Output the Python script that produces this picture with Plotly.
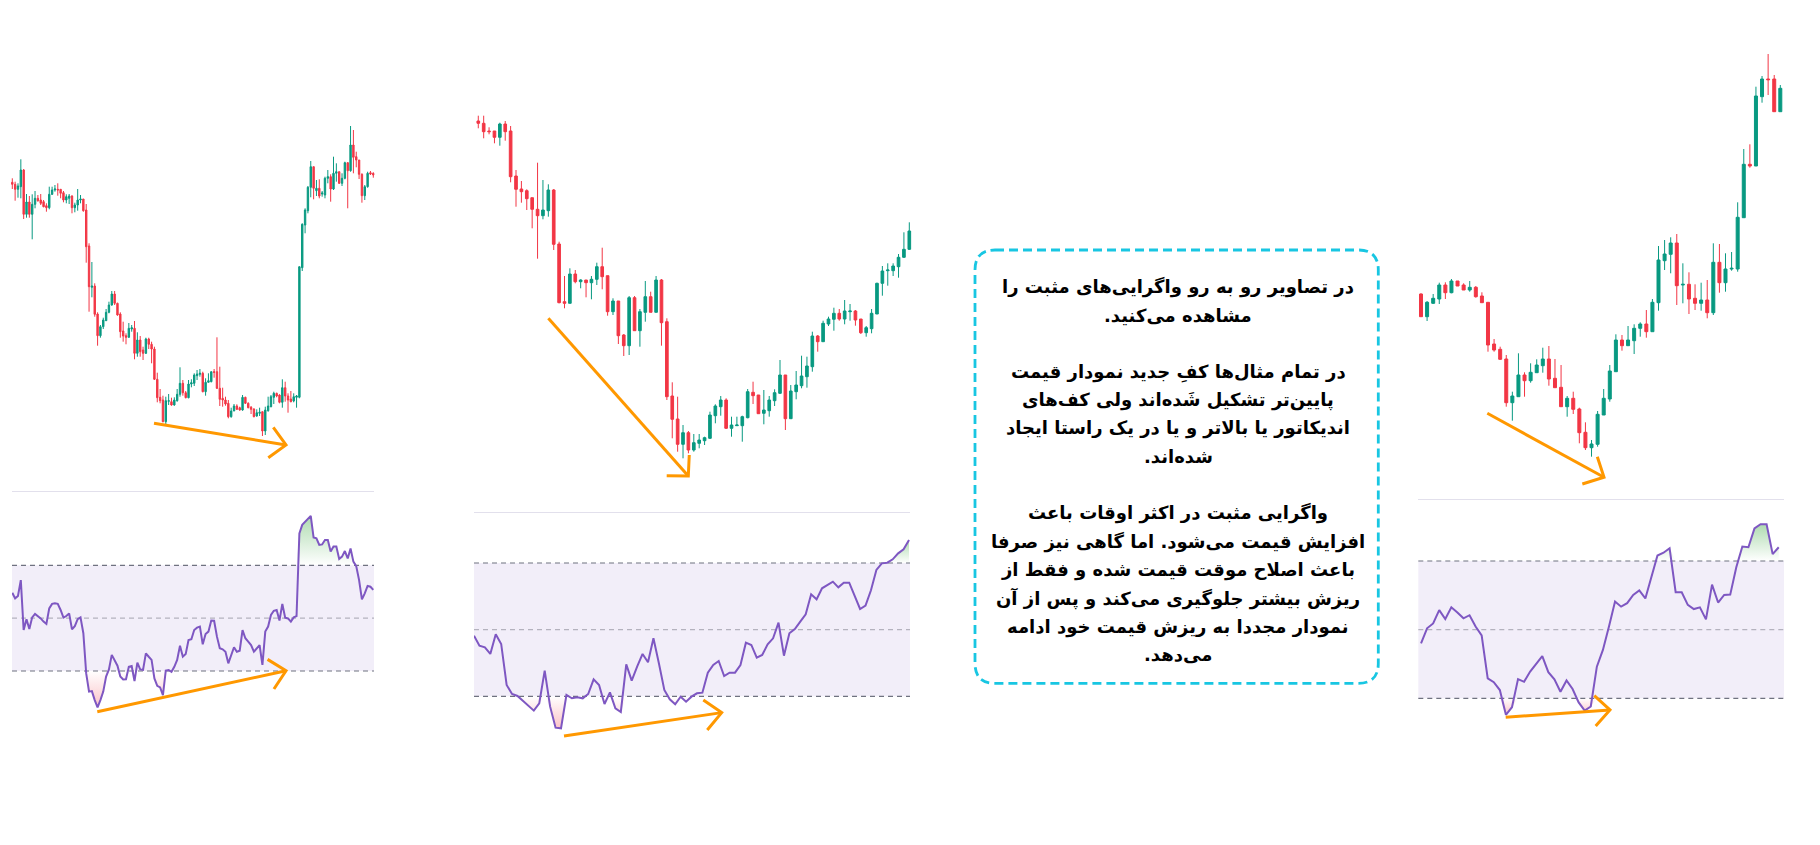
import plotly.graph_objects as go

FIG_W, FIG_H = 1820, 845
PAGE_OFF = 8  # default page body margin in pixels
GREEN = "#089981"
RED = "#F23645"
PURPLE = "#7E57C2"
ORANGE = "#FF9800"

# ---------------- Panel 1 data ----------------
p1_open = [317.7,315.7,310.7,313.3,330,285.7,298,285.7,295.7,301.7,300,298.3,294.3,292.3,305.7,310,310.7,310.7,307.3,300,
           301.7,304,292.3,295,300,301,290,254,212.7,214,186,164.3,173.3,179.3,187.7,195,206,196.7,186,169,
           164.3,162.7,171,171.7,146.7,160,150,146.7,161,155.7,151,120.7,102.7,100,78.3,98.7,98.3,95,99.3,105.7,
           116.7,107.3,102.3,116,116.7,124.3,125.7,126.7,108.3,117.7,118.3,128.3,128.3,111.7,101.7,100,96.7,83.3,89,94,
           92.3,90,102.7,96.7,92.7,91,84,86.7,88.3,69,89.3,93.3,102.7,106.7,105,97.7,112.3,104,101,99,
           102.7,102.7,232.3,275,289.3,312.7,333.3,309.3,311.7,306,305,321.7,323.3,311,326.7,328.3,316.7,321.7,337.3,329.3,
           355,343.3,340,325.7,304.3,313.3,327.3,326.7]
p1_high = [321.7,318.3,316.7,340.7,331,306,304,305.7,309,305,306,300,296.7,313.3,313.3,315,316.7,311,309,305.7,
           306,304.7,297.3,311,305,301,296,256.7,238,216.7,187.7,175,182.3,191,198.3,209,209,197.3,187.7,178.3,
           166.7,177,175,179,167.7,164,153.3,162.3,162.3,158.3,153.3,127.3,111,104.3,103.3,106,102.3,102.7,111,132.7,
           120,109,120,120.7,126.7,130,131,128.3,121.7,126.7,128.3,131,162.7,133.3,112.3,103.3,100,92.3,96,95.7,
           93.3,105,103.3,97.7,94,91.7,90.7,92.3,88.3,93.3,103.3,105,108.3,107.3,105.7,120.7,118.3,106.7,109,106.7,
           105,233.3,276.7,291.7,314,339,333.3,320,320.7,309,323.3,330,325.7,343.3,336.7,328.3,326.7,338.3,337.7,374,
           370,348.3,340,326.7,315,328.3,329,327.7]
p1_low = [311,299.3,302.3,301.7,281,282.3,282.3,260.7,291.7,298.3,295,292.7,288.3,290.7,305,308.3,304.3,301.7,297.7,296.7,
          296,286.7,287.7,289.3,296.7,288.3,237.3,188.3,202.7,183.3,154.3,162.3,171,179,186.7,194.3,195,184.3,162.3,158.3,
          155.7,162.3,168.3,140.7,143.3,143.3,140,146,151,136.7,120,97.7,96.7,77.7,75,95,94.3,94.3,98.3,103.3,
          104.3,101.7,101.7,112.7,114,120,123.3,107.7,104.3,117.7,117.7,122.3,111,94,93.3,94.3,81.7,82.3,89,90,
          89.3,89.3,96,91.7,86,82.7,83.3,84,64,65,88.3,92.7,96,102.7,96.7,92.3,98.3,87.3,97.7,97.7,
          92.3,101.7,229,266.7,286.7,302.7,300.7,304,301.7,303.3,301.7,316.7,298.3,310,318.3,316,314,320.7,291.7,328.3,
          326.7,332.7,321,297.3,300,312.3,325,322.3]
p1_close = [315.7,310.7,314,330,285.7,298,285.7,295.7,301.7,299.3,296.7,293.3,292.3,305.7,310,311,310,306.7,300,303.3,
            304,292.3,295,300,301,289.3,253.3,213.3,214,185.7,164.3,173.3,180,187.7,195,206,196.7,185,168.3,164,
            162.7,171.7,172.3,146.7,160,148.3,146.7,161,155.7,151,120.7,102.3,99.3,78.3,99.3,99.3,95,100,105.7,116.7,
            107.3,102.3,116,117.3,125,126,126.7,108.3,117.7,119.3,128.3,127.7,111.7,100.7,100,96,83.3,89,94,90.7,
            90,102.7,96.7,92.3,90.7,83.3,87.3,87.7,69,90,94,103.3,106.7,104,97.7,112.3,104,100,98.3,103.3,
            104,233.3,275.7,290,312.7,333.3,311.7,311.7,304,307,321.7,323.3,311,326.7,328.3,316.7,321.7,337.3,329.3,355,
            342.7,340,325.7,304.3,313.3,326.7,326,325]
p1_rsi = [59.6,57.5,58.4,64.4,45.5,49.6,45.9,50.3,51.6,50.9,49.9,48.7,47.8,53.7,55.4,55.6,55.4,53.1,50.2,50.8,
          51.8,45.8,47.0,49.6,50.3,44.3,29.1,22.2,22.4,19.0,16.2,19.0,22.2,27.9,30.6,36.1,34.2,32.0,27.9,26.8,
          26.9,31.6,31.9,26.2,33.2,30.6,30.4,36.7,35.4,34.2,27.2,24.4,23.8,20.9,30.2,30.4,29.7,31.6,34.2,39.6,
          35.4,36.4,41.7,42.0,45.5,46.4,46.8,40.1,44.0,44.9,49.1,49.0,43.0,38.6,38.2,37.3,32.9,35.8,39.0,37.3,
          37.7,45.5,42.4,41.1,39.8,37.3,38.6,39.8,32.3,44.9,46.8,51.2,52.8,53.1,49.1,55.4,50.2,49.9,48.7,50.3,
          50.8,82.1,85.3,86.5,87.4,88.7,80.5,80.2,77.7,77.9,79.6,79.6,75.2,77.1,77.1,72.4,73.3,75.4,72.6,76.4,
          71.4,69.7,64.4,57.1,59.4,62.2,61.9,60.7]
p1_price_arrow_x = [49.85, 96.29, None, 91.82, 96.29, 90.06]
p1_price_arrow_y = [76.7, 55.0, None, 72.7, 55.0, 42.3]
p1_rsi_arrow_x = [29.9, 96.3, None, 89.8, 96.3, 92.05]
p1_rsi_arrow_y = [14.6, 30.1, None, 34.4, 30.1, 23.2]

# ---------------- Panel 2 data ----------------
p2_open = [479,476.7,469,469,462.7,476,469,424,411,409.3,402.3,390.7,384.3,389.3,410,356,298.3,296.7,326,318.3,
           320,317.3,320.7,333.3,324.3,288.3,299,265,254.3,302.3,269.3,287.7,303.3,287.7,320,278.3,204,181,155.7,167.3,
           150,156.7,159.3,161.7,184.3,193.3,200,171.7,174.3,174.3,182.3,207.7,205,186.7,189.3,199.3,206.7,225,181.3,208.3,
           214.3,223.3,233.3,264,258.3,276,280.7,286.7,281,288.3,289,281,267.3,271.3,286,316.7,329.3,329.3,333.3,342.7,
           350.7]
p2_high = [484.3,484.3,472.7,469,477.3,479,474,430,419,410.7,402.3,437.3,420,415.7,411,358.3,324,331.7,330,320.7,
           320,324,337.3,352.3,324.3,301.7,299,266,304,304,291,319,308.3,324,321,281.7,217.7,203.3,175,169,
           166,166,163.3,188.3,195.7,204,201.7,183.3,183.3,184.3,211,218.3,205,210,204,210.7,240,225,215,229,
           244.3,243.3,268.3,265,279.3,283.3,292.3,291,300,296,290,281,274,291,317.3,334,336.7,336.7,346,367.7,
           377.7]
p2_low = [471.7,461.7,465.7,456.7,454.3,459.3,417.7,393.3,397.3,390,371.7,341.3,380.7,383.3,350,296.7,291.7,296.7,316.7,311.7,
          302.7,300.7,315,310.7,284.3,285,256,244,245,269.3,253.3,278.3,287.7,287.7,254.3,200,161.7,148.3,141.7,146.7,
          148.3,151.7,155,161,176.7,184.3,171,163.3,174.3,158.3,181.7,196,186.3,175.7,183.3,194,206,170,181.3,200.7,
          211.7,212.3,228.3,248.3,258.3,274,269.3,279.3,275.7,279.3,274.3,266,263.3,266.7,286,304.3,314.3,324,322.3,342.3,
          350]
p2_close = [476.7,468.3,468.3,462.7,476,468.3,423.3,410.7,408.3,401.3,390.7,384.3,390,410,355.7,297.3,296.7,326,318.3,320,
            317.3,320.7,333.3,323.3,288.3,299,264.3,254.3,302.3,269.3,288.3,303.3,287.7,320,277.3,203.3,180.7,155.7,167.3,150,
            157.3,160,162.3,185,194,200,171.7,175,175,183.3,208.3,204.3,186.3,190,200,207.3,225,181.3,209,215,
            224,234,264,258.3,276.7,281,286.7,281,289,289,280,267.3,272.3,286.7,316.7,329,330,334,342.7,350.7,
            369]
p2_rsi = [48.2,45.2,44.7,42.7,48.6,45.7,33.4,30.7,30.1,28.6,26.9,25.7,27.9,37.7,26.9,20.6,20.4,30.4,29.4,29.7,
          29.4,30.7,35.1,33.4,27.7,31.2,26.4,25.3,39.6,34.7,38.9,42.7,40.2,47.4,39.9,31.9,29.1,27.6,29.9,28.4,
          29.9,30.9,31.1,37.1,39.4,40.6,36.1,37.1,37.1,39.4,46.1,45.4,41.6,42.4,45.6,47.4,52.1,42.2,48.9,50.2,
          52.4,54.6,60.6,59.1,62.4,63.4,64.4,62.7,64.1,64.1,60.2,56.2,57.2,61.8,67.9,69.9,70.1,71.1,72.9,74.1,
          76.9]
p2_price_arrow_x = [13.0, 38.98, None, 34.97, 38.98, 39.16]
p2_price_arrow_y = [281.7, 124.0, None, 124.3, 124.0, 145.0]
p2_rsi_arrow_x = [16.55, 45.55, None, 42.17, 45.55, 42.9]
p2_rsi_arrow_y = [18.1, 25.1, None, 28.9, 25.1, 19.9]

# ---------------- Panel 3 data ----------------
p3_open = [306,283.3,296.7,301,315,307.3,319,315,310,312.7,304,297.7,256,250.7,241,197.3,203.3,225,219.3,227.3,
           234.3,241,221.7,212.7,193.3,201.7,191,167.7,152.3,155.7,185,201,228.3,260,254.3,259.3,271.7,276,268.3,297.3,
           339.3,345.7,357,315,315.7,301.7,296.7,300,287.3,337.7,317.3,331,331,382.3,435.7,434,503.3,521,521,488.3]
p3_high = [306.7,299,306,317.3,317.7,321,319,316.7,319,314,307.7,297.7,261,253.3,245,208.3,246.7,227.7,236.7,240.7,
           252.3,254,241,235,204,208.3,192.3,177.7,160,189,211,235,265.7,265,274,275.7,277.7,290,301,354,
           360,362.7,366,336.7,327.7,315.7,317.3,320,356.7,356,346.7,348,397.7,451,455.7,513.3,524,546,525,515]
p3_low = [283.3,279,296,296,301,306.7,314,310,308.3,302.3,297.3,248.3,248.3,240,193.3,179.3,203.3,203.3,217.3,227.3,
          227.3,214.3,212.3,193.3,183.3,186,156.7,150,143.3,153.3,185,198.3,228.3,249.3,254.3,246,263.3,262.3,268.3,289.3,
          330,326.7,295,296.7,286,290,289.3,281.7,285,307.3,308.3,329.3,328.3,382.3,432.3,434,497.3,505,488.3,488.3]
p3_close = [283.3,297.7,301.7,315,307.3,319,314,310,312.7,303.3,297.3,255,250,240.7,197.3,204,225,219.3,227.7,235,
            241,221,212.3,193.3,201.7,190.7,167.3,152.3,156,185.7,201.7,229,260,254.3,260,271.7,276,268.3,297.7,340,
            346,357,314.3,315.7,301,296.7,300,287.3,337.7,317.3,331,331.7,382.7,435.7,434,504,521,520.3,488.3,511.7]
p3_rsi = [46.0,50.4,51.8,55.7,53.1,56.5,55.0,53.3,54.2,50.9,48.3,35.8,34.7,32.4,25.2,27.4,35.6,34.8,37.8,40.2,
          42.3,37.6,35.5,31.9,35.2,32.7,28.8,26.4,27.6,39.2,44.1,50.9,58.2,56.7,57.7,60.1,61.4,59.1,65.2,71.6,
          72.4,73.7,60.9,60.9,57.2,56.0,56.5,53.0,63.1,57.9,60.1,60.2,68.2,74.2,74.0,79.5,80.7,80.7,72.0,74.0]
p3_price_arrow_x = [10.89, 30.05, None, 26.49, 30.05, 28.95]
p3_price_arrow_y = [186.7, 122.7, None, 116.0, 122.7, 143.3]
p3_rsi_arrow_x = [13.97, 31.17, None, 28.58, 31.17, 28.81]
p3_rsi_arrow_y = [24.5, 26.6, None, 30.8, 26.6, 21.9]

RSI_UPPER, RSI_MID, RSI_LOWER = 70, 50, 30

text_lines = [
    "در تصاویر رو به رو واگرایی‌های مثبت را",
    "مشاهده می‌کنید.",
    "",
    "در تمام مثال‌ها کفِ جدید نمودار قیمت",
    "پایین‌تر تشکیل شَده‌اند ولی کف‌های",
    "اندیکاتور یا بالاتر و یا در یک راستا ایجاد",
    "شده‌اند.",
    "",
    "واگرایی مثبت در اکثر اوقات باعث",
    "افزایش قیمت می‌شود. اما گاهی نیز صرفا",
    "باعث اصلاح موقت قیمت شده و فقط از",
    "ریزش بیشتر جلوگیری می‌کند و پس از آن",
    "نمودار مجددا به ریزش قیمت خود ادامه",
    "می‌دهد.",
]

# ---------------- layout geometry (page pixels) ----------------
panels = [
    dict(o=p1_open, h=p1_high, l=p1_low, c=p1_close, rsi=p1_rsi,
         pa=(p1_price_arrow_x, p1_price_arrow_y), ra=(p1_rsi_arrow_x, p1_rsi_arrow_y),
         cx=(10.88, 374.72), cy=(105, 485), prange=(15, 395),
         rx=(12, 374), ry=(492.3, 740), rrange=(3.89, 97.63), rxpad=(-0.1, 0.25)),
    dict(o=p2_open, h=p2_high, l=p2_low, c=p2_close, rsi=p2_rsi,
         pa=(p2_price_arrow_x, p2_price_arrow_y), ra=(p2_rsi_arrow_x, p2_rsi_arrow_y),
         cx=(475.6, 912.0), cy=(95, 505), prange=(95, 505),
         rx=(474, 910), ry=(513.3, 760), rrange=(10.89, 84.91), rxpad=(0, 0.18)),
    dict(o=p3_open, h=p3_high, l=p3_low, c=p3_close, rsi=p3_rsi,
         pa=(p3_price_arrow_x, p3_price_arrow_y), ra=(p3_rsi_arrow_x, p3_rsi_arrow_y),
         cx=(1417.96, 1783.35), cy=(35, 495), prange=(105, 565),
         rx=(1418.3, 1784), ry=(500.3, 760), rrange=(12.02, 87.68), rxpad=(-0.45, 0.87)),
]


def fx(px):
    return (px - PAGE_OFF) / FIG_W


def fy(py):
    return 1 - (py - PAGE_OFF) / FIG_H


def dom_x(a, b):
    return [fx(a), fx(b)]


def dom_y(top, bottom):
    return [fy(bottom), fy(top)]


fig = go.Figure()
layout = dict(
    width=FIG_W, height=FIG_H, margin=dict(l=0, r=0, t=0, b=0),
    paper_bgcolor="white", plot_bgcolor="rgba(0,0,0,0)", showlegend=False,
)
shapes = []

hidden = dict(showgrid=False, zeroline=False, showticklabels=False, ticks="", fixedrange=True)

for i, p in enumerate(panels):
    k_price = 2 * i + 1
    k_rsi = 2 * i + 2
    xp = "x" if k_price == 1 else f"x{k_price}"
    yp = "y" if k_price == 1 else f"y{k_price}"
    xr, yr = f"x{k_rsi}", f"y{k_rsi}"
    n = len(p["o"])
    assert len(p["h"]) == n and len(p["l"]) == n and len(p["c"]) == n, (i, n, len(p["h"]), len(p["l"]), len(p["c"]))
    idx = list(range(n))

    fig.add_trace(go.Candlestick(
        x=idx, open=p["o"], high=p["h"], low=p["l"], close=p["c"],
        xaxis=xp, yaxis=yp, whiskerwidth=0,
        increasing=dict(line=dict(color=GREEN, width=1), fillcolor=GREEN),
        decreasing=dict(line=dict(color=RED, width=1), fillcolor=RED),
        hoverinfo="skip",
    ))
    fig.add_trace(go.Scatter(x=p["pa"][0], y=p["pa"][1], xaxis=xp, yaxis=yp, mode="lines",
                             line=dict(color=ORANGE, width=3), hoverinfo="skip"))

    rsi = p["rsi"]
    m = len(rsi)
    ridx = list(range(m))
    fig.add_trace(go.Scatter(x=ridx, y=[RSI_UPPER] * m, xaxis=xr, yaxis=yr, mode="lines",
                             line=dict(width=0), hoverinfo="skip"))
    fig.add_trace(go.Scatter(x=ridx, y=[max(v, RSI_UPPER) for v in rsi], xaxis=xr, yaxis=yr, mode="lines",
                             line=dict(width=0), fill="tonexty",
                             fillgradient=dict(type="vertical", start=RSI_UPPER, stop=max(max(rsi), RSI_UPPER + 1),
                                               colorscale=[[0, "rgba(76,175,80,0)"], [1, "rgba(76,175,80,0.45)"]]),
                             hoverinfo="skip"))
    fig.add_trace(go.Scatter(x=ridx, y=[RSI_LOWER] * m, xaxis=xr, yaxis=yr, mode="lines",
                             line=dict(width=0), hoverinfo="skip"))
    fig.add_trace(go.Scatter(x=ridx, y=[min(v, RSI_LOWER) for v in rsi], xaxis=xr, yaxis=yr, mode="lines",
                             line=dict(width=0), fill="tonexty",
                             fillgradient=dict(type="vertical", start=min(min(rsi), RSI_LOWER - 1), stop=RSI_LOWER,
                                               colorscale=[[0, "rgba(242,54,69,0.3)"], [1, "rgba(242,54,69,0)"]]),
                             hoverinfo="skip"))
    fig.add_trace(go.Scatter(x=ridx, y=rsi, xaxis=xr, yaxis=yr, mode="lines",
                             line=dict(color=PURPLE, width=2), hoverinfo="skip"))
    fig.add_trace(go.Scatter(x=p["ra"][0], y=p["ra"][1], xaxis=xr, yaxis=yr, mode="lines",
                             line=dict(color=ORANGE, width=3), hoverinfo="skip"))

    layout["xaxis" if k_price == 1 else f"xaxis{k_price}"] = dict(
        domain=dom_x(*p["cx"]), range=[-0.5, n - 0.5], anchor=yp,
        rangeslider=dict(visible=False), showline=False, **hidden)
    layout["yaxis" if k_price == 1 else f"yaxis{k_price}"] = dict(
        domain=dom_y(*p["cy"]), range=list(p["prange"]), anchor=xp, showline=False, **hidden)
    layout[f"xaxis{k_rsi}"] = dict(
        domain=dom_x(*p["rx"]), range=[p["rxpad"][0], m - 1 + p["rxpad"][1]], anchor=yr,
        side="top", showline=True, linecolor="#E2E0EC", linewidth=1, **hidden)
    layout[f"yaxis{k_rsi}"] = dict(
        domain=dom_y(*p["ry"]), range=list(p["rrange"]), anchor=xr, showline=False, **hidden)

    shapes.append(dict(type="rect", xref=f"{xr} domain", yref=yr, x0=0, x1=1, y0=RSI_LOWER, y1=RSI_UPPER,
                       fillcolor="rgba(126,87,194,0.1)", line=dict(width=0), layer="below"))
    for lvl, col in ((RSI_UPPER, "#6F7280"), (RSI_MID, "#B4B2BE"), (RSI_LOWER, "#6F7280")):
        shapes.append(dict(type="line", xref=f"{xr} domain", yref=yr, x0=0, x1=1, y0=lvl, y1=lvl,
                           line=dict(color=col, width=1.2, dash="5px,4px"), layer="below"))

# text box with rounded dashed border
L, R, T, B, rad = 975, 1378.3, 250, 683.3, 20


def P(x, y):
    return f"{fx(x):.6f},{fy(y):.6f}"


path = (f"M {P(L + rad, T)} L {P(R - rad, T)} Q {P(R, T)} {P(R, T + rad)} "
        f"L {P(R, B - rad)} Q {P(R, B)} {P(R - rad, B)} L {P(L + rad, B)} "
        f"Q {P(L, B)} {P(L, B - rad)} L {P(L, T + rad)} Q {P(L, T)} {P(L + rad, T)} Z")
shapes.append(dict(type="path", xref="paper", yref="paper", path=path,
                   line=dict(color="#18C6E2", width=2.8, dash="9px,5px"), fillcolor="rgba(0,0,0,0)"))

annotations = []
line_y0, line_step, text_cx = 286.7, 28.33, 1178
for j, t in enumerate(text_lines):
    if not t:
        continue
    txt = t + "\u200f" if t.endswith(".") else t
    annotations.append(dict(
        xref="paper", yref="paper", x=fx(text_cx), y=fy(line_y0 + j * line_step),
        xanchor="center", yanchor="middle", showarrow=False, text=txt,
        font=dict(family="DejaVu Sans", size=18, color="#000000", weight="bold")))

layout["shapes"] = shapes
layout["annotations"] = annotations
fig.update_layout(**layout)
fig.write_html("out.html")
